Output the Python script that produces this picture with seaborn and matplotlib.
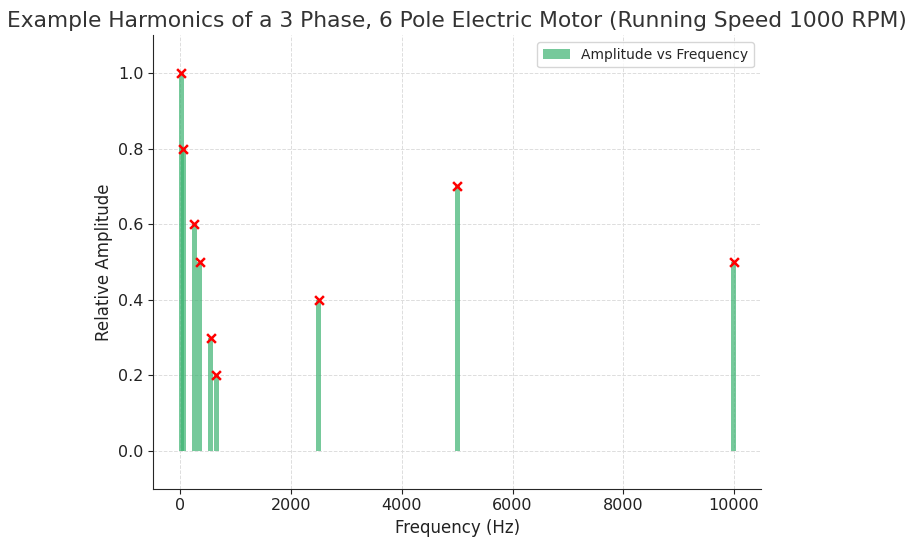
import matplotlib
matplotlib.use("Agg")
import matplotlib.pyplot as plt
import numpy as np
import pandas as pd
import seaborn as sns

# Harmonic frequencies (Hz) and relative amplitudes
frequencies = [1000 / 60, 50, 250, 350, 550, 650, 2500, 5000, 10000]
amplitudes = [1.0, 0.8, 0.6, 0.5, 0.3, 0.2, 0.4, 0.7, 0.5]

df = pd.DataFrame({"freq": frequencies, "amp": amplitudes})

sns.set_style("ticks")
plt.rcParams["font.family"] = ["DejaVu Sans"]

fig, ax = plt.subplots(figsize=(9.18, 5.43), dpi=100)

sns.barplot(
    data=df,
    x="freq",
    y="amp",
    native_scale=True,
    width=2.8,
    color="mediumseagreen",
    alpha=0.7,
    saturation=1,
    linewidth=0,
    label="Amplitude vs Frequency",
    ax=ax,
)
sns.scatterplot(
    data=df,
    x="freq",
    y="amp",
    marker="x",
    color="red",
    s=40,
    linewidth=1.8,
    zorder=5,
    ax=ax,
)

ax.set_xlim(-490, 10490)
ax.set_ylim(-0.1, 1.1)
ax.set_xticks([0, 2000, 4000, 6000, 8000, 10000])
ax.set_xticklabels(["0", "2000", "4000", "6000", "8000", "10000"])
ax.set_yticks([0.0, 0.2, 0.4, 0.6, 0.8, 1.0])
ax.set_yticklabels(["0.0", "0.2", "0.4", "0.6", "0.8", "1.0"])
ax.tick_params(labelsize=11.5, colors="#222222")
ax.grid(True, linestyle="--", color="#dddddd", linewidth=0.7)
ax.set_axisbelow(True)
sns.despine(ax=ax)

ax.set_title(
    "Example Harmonics of a 3 Phase, 6 Pole Electric Motor (Running Speed 1000 RPM)",
    fontsize=15.7,
    color="#333333",
)
ax.set_xlabel("Frequency (Hz)", fontsize=12, color="#222222")
ax.set_ylabel("Relative Amplitude", fontsize=12, color="#222222")
ax.legend(loc="upper right", fontsize=10)

fig.subplots_adjust(left=0.167, right=0.829, top=0.935, bottom=0.1)
fig.savefig("out.png", dpi=100)
